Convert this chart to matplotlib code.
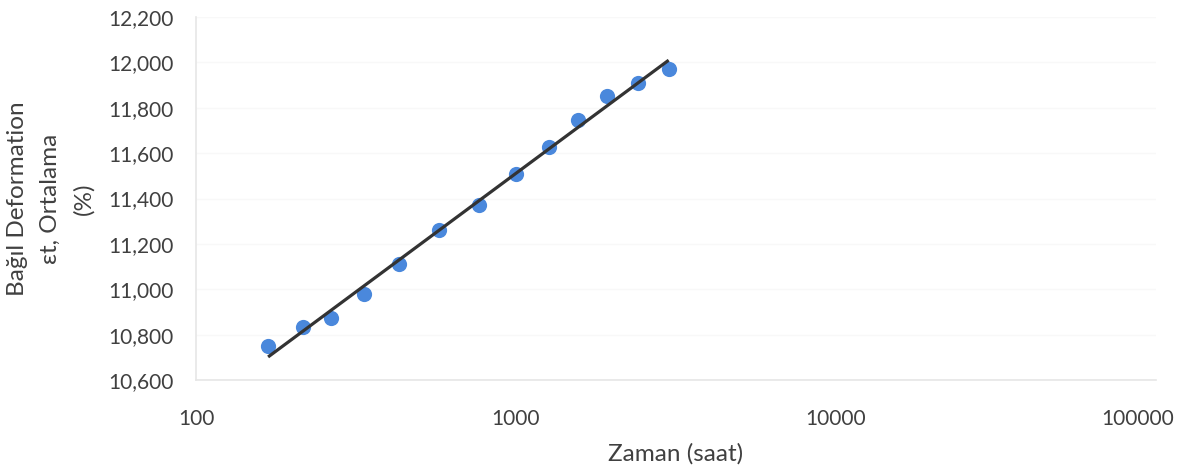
import matplotlib
matplotlib.use('Agg')
import matplotlib.pyplot as plt
import matplotlib.transforms as mtransforms
import numpy as np

# creep data: time (hours) vs mean relative deformation
zaman = [168, 216, 264, 336, 432, 576, 768, 1000, 1272, 1560, 1920, 2400, 3000]
deformasyon = [10750, 10832, 10872, 10979, 11112, 11262, 11372, 11509, 11625,
               11744, 11850, 11911, 11973]
y_ticks = [10600, 10800, 11000, 11200, 11400, 11600, 11800, 12000, 12200]
x_ticks = [100, 1000, 10000, 100000]

plt.rcParams['font.family'] = ['Lato', 'DejaVu Sans']

fig = plt.figure(figsize=(11.89, 4.73), dpi=100)
ax = fig.add_axes([196 / 1189, 1 - 380 / 473, (1156 - 196) / 1189, (380 - 17) / 473])

ax.scatter(zaman, deformasyon, s=120, color='#4a88dc', zorder=3, linewidths=0)

# logarithmic trendline (straight on the log axis)
k, b = np.polyfit(np.log10(zaman), deformasyon, 1)
xt = np.array([zaman[0], zaman[-1]])
ax.plot(xt, k * np.log10(xt) + b, color='#333333', lw=2.3, zorder=4,
        solid_capstyle='butt')

ax.set_xscale('log')
ax.set_xlim(100, 100000)
ax.set_ylim(10600, 12200)
ax.set_xticks(x_ticks)
ax.set_xticklabels([str(t) for t in x_ticks])
ax.xaxis.set_minor_locator(matplotlib.ticker.NullLocator())
ax.set_yticks(y_ticks)
ax.set_yticklabels(['{:,}'.format(t) for t in y_ticks])

ax.tick_params(length=0, labelsize=15, labelcolor='#404040')
ax.tick_params(axis='x', pad=21)
ax.tick_params(axis='y', pad=16)

# last x label is pulled inside the figure, like Excel does
last = ax.get_xticklabels()[-1]
last.set_transform(last.get_transform() +
                   mtransforms.ScaledTranslation(-18 / 100, 0, fig.dpi_scale_trans))

ax.grid(True, axis='y', color='#f8f8f8', lw=1)
for s in ['top', 'right']:
    ax.spines[s].set_visible(False)
for s in ['left', 'bottom']:
    ax.spines[s].set_color('#e6e6e6')
    ax.spines[s].set_linewidth(1.2)

ax.set_xlabel('Zaman (saat)', fontsize=17.5, color='#404040', labelpad=10)
ax.set_ylabel('Bağıl Deformation\nεt, Ortalama\n(%)', fontsize=17.5, color='#404040',
              labelpad=10, linespacing=1.7)

fig.savefig('out.png', dpi=100)
